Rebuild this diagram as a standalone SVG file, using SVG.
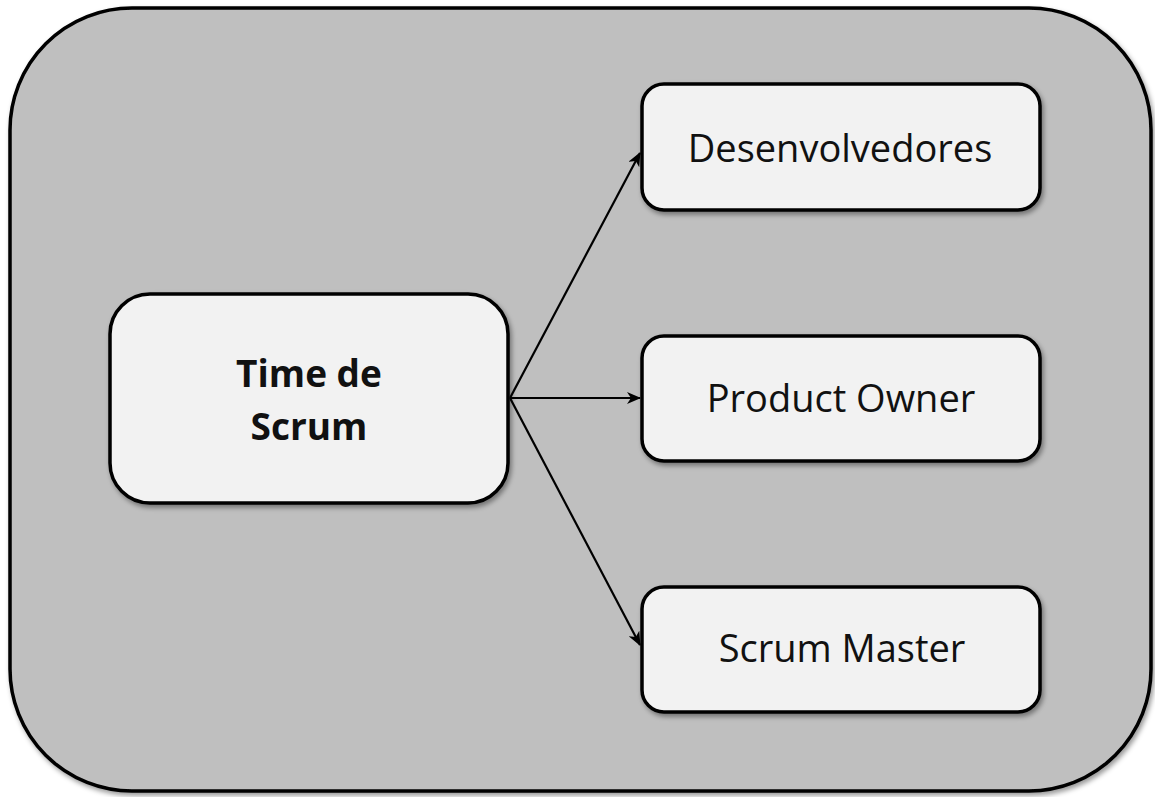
<svg xmlns="http://www.w3.org/2000/svg" width="1155" height="797" viewBox="0 0 1155 797">
<style>
.box{fill:#f2f2f2;stroke:#000;stroke-width:3.5;filter:url(#sh)}
.lbl{font-family:"Open Sans","Liberation Sans",sans-serif;font-size:38px;fill:#111;text-anchor:middle}
.b{font-weight:bold;font-size:37px}
.con{stroke:#000;stroke-width:2.2;fill:none;marker-end:url(#ah)}
</style>
<defs>
<filter id="sh" x="-10%" y="-10%" width="120%" height="130%">
<feDropShadow dx="2" dy="3" stdDeviation="2.5" flood-color="#000" flood-opacity="0.4"/>
</filter>
<marker id="ah" viewBox="0 0 14 12" refX="13" refY="6" markerWidth="14" markerHeight="12" markerUnits="userSpaceOnUse" orient="auto">
<path d="M0,0 L14,6 L0,12 L4,6 Z" fill="#000"/>
</marker>
</defs>
<g id="container">
<rect x="10" y="8" width="1141" height="783" rx="122" ry="122" fill="#bfbfbf" stroke="#000" stroke-width="3.5" filter="url(#sh)"/>
</g>
<g id="connectors">
<line class="con" x1="510" y1="398" x2="640" y2="153"/>
<line class="con" x1="510" y1="398" x2="640" y2="398"/>
<line class="con" x1="510" y1="398" x2="640" y2="645"/>
</g>
<g id="time-de-scrum">
<rect class="box" x="110" y="294" width="398" height="209" rx="40" ry="40"/>
<text class="lbl b" x="309" y="387">Time de</text>
<text class="lbl b" x="309" y="440">Scrum</text>
</g>
<g id="desenvolvedores">
<rect class="box" x="642" y="84" width="398" height="126" rx="22" ry="22"/>
<text class="lbl" x="840" y="162">Desenvolvedores</text>
</g>
<g id="product-owner">
<rect class="box" x="642" y="336" width="398" height="125" rx="22" ry="22"/>
<text class="lbl" x="841" y="412">Product Owner</text>
</g>
<g id="scrum-master">
<rect class="box" x="642" y="587" width="398" height="125" rx="22" ry="22"/>
<text class="lbl" x="842" y="662">Scrum Master</text>
</g>
</svg>
